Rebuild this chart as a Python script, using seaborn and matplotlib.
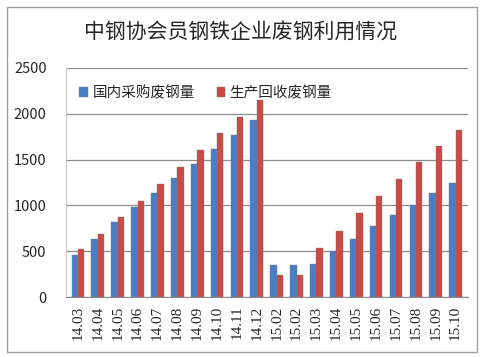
import matplotlib
matplotlib.use("Agg")
import matplotlib.pyplot as plt
import seaborn as sns
import pandas as pd
from matplotlib.patches import Rectangle

# 月份标签（原图中 15.02 出现两次）
months = ['14.03', '14.04', '14.05', '14.06', '14.07', '14.08', '14.09', '14.10',
          '14.11', '14.12', '15.02', '15.02 ', '15.03', '15.04', '15.05', '15.06',
          '15.07', '15.08', '15.09', '15.10']
domestic = [460, 630, 815, 980, 1140, 1300, 1450, 1610, 1770, 1930,
            350, 350, 365, 500, 630, 770, 890, 1000, 1135, 1245]
recycled = [520, 690, 870, 1050, 1230, 1420, 1605, 1790, 1960, 2150,
            245, 245, 540, 725, 915, 1100, 1290, 1475, 1650, 1825]
series_names = ['国内采购废钢量', '生产回收废钢量']
colors = ['#4A7EC4', '#CC4A46']

df = pd.DataFrame({'月份': months * 2,
                   '数量': domestic + recycled,
                   '类型': [series_names[0]] * len(months) + [series_names[1]] * len(months)})

sns.set_style("white")
plt.rcParams['font.family'] = ['Noto Sans CJK SC', 'DejaVu Sans']

fig = plt.figure(figsize=(4.82, 3.57), dpi=100)
ax = fig.add_axes([0.137, 0.168, 0.833, 0.642])

sns.barplot(data=df, x='月份', y='数量', hue='类型', palette=colors,
            width=0.64, gap=0.0, ax=ax, legend=True,
            edgecolor='#7a7a7a', linewidth=0.3, saturation=1)

ax.set_ylim(0, 2500)
ax.set_yticks([0, 500, 1000, 1500, 2000, 2500])
ax.yaxis.grid(True, color='#8c8c8c', linewidth=0.9)
ax.set_axisbelow(True)
ax.set_xlim(-0.6, len(months) - 0.4)
ax.set_xlabel('')
ax.set_ylabel('')
for s in ['top', 'right']:
    ax.spines[s].set_visible(False)
ax.spines['left'].set_color('#c8c8c8')
ax.spines['bottom'].set_color('#8c8c8c')
ax.tick_params(axis='y', length=0, labelsize=10.5, pad=14)
ax.tick_params(axis='x', length=0, pad=6)
ax.set_xticks(range(len(months)))
ax.set_xticklabels([m.strip() for m in months], rotation=90,
                   fontsize=11, family='Liberation Serif')

ax.legend(loc='upper left', ncol=2, frameon=False, fontsize=10.5,
          handlelength=0.6, handleheight=0.6, handletextpad=0.3,
          columnspacing=1.5, bbox_to_anchor=(0.0, 0.98))

fig.text(0.5, 0.91, '中钢协会员钢铁企业废钢利用情况', ha='center', va='center',
         fontsize=15)

# 外框
fig.patches.append(Rectangle((0.015, 0.015), 0.975, 0.965, transform=fig.transFigure,
                             fill=False, edgecolor='#a0a0a0', linewidth=1.0))

fig.savefig('out.png', dpi=100)
